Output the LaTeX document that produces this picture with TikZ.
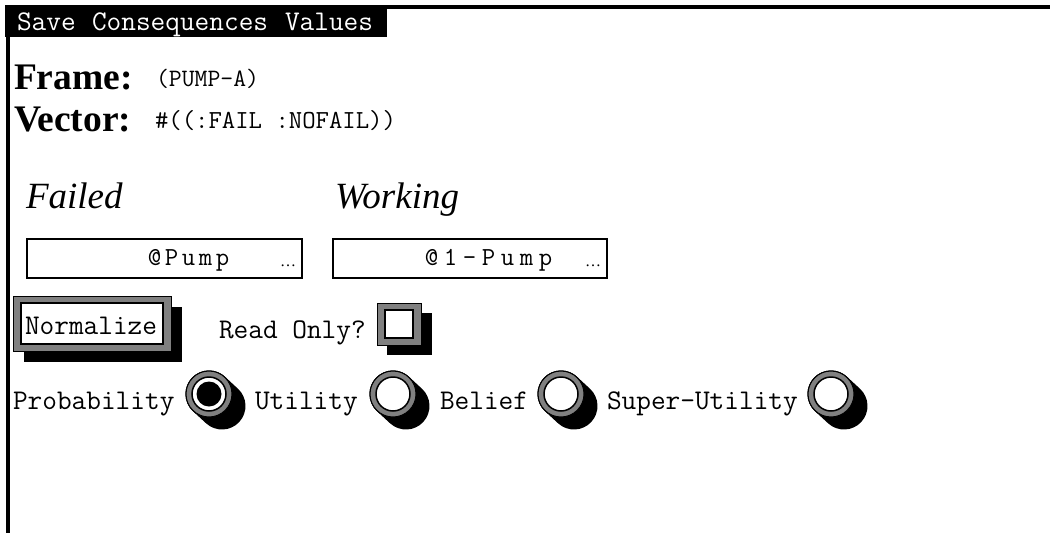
\documentclass[tikz,border=0pt]{standalone}
\usepackage{fontspec}
\setmainfont{Liberation Serif}
\definecolor{btngray}{HTML}{808080}
\newcommand\cellchar[2]{\makebox[#1][c]{#2}}

\begin{document}
\begin{tikzpicture}[x=1pt,y=-1pt,
  every node/.style={inner sep=0pt, outer sep=0pt},
  mono/.style={font=\ttfamily\fontsize{28.5}{28.5}\selectfont, anchor=base west},
  valmono/.style={font=\ttfamily\fontsize{26}{26}\selectfont, anchor=base west},
  smallmono/.style={font=\ttfamily\fontsize{25}{25}\selectfont, anchor=base west},
  heading/.style={font=\fontsize{37.5}{37.5}\selectfont\bfseries, anchor=base west},
  column/.style={font=\fontsize{37}{37}\selectfont\itshape, anchor=base west},
  field/.style={draw=black, line width=2pt, fill=white},
  bevel/.style={draw=black, line width=1pt, fill=btngray},
  face/.style={draw=black, line width=2pt, fill=white},
  shadow/.style={fill=black}]
\useasboundingbox (0,0) rectangle (1050,533);

% window frame and menu bar
\draw[line width=4pt] (5,7) -- (1050,7);
\draw[line width=4pt] (8,5) -- (8,533);
\fill[black] (5,5) rectangle (387,37);
\node[mono, text=white] (save) at (17,30) {Save};
\node[mono, text=white] (conseq) at (92,30) {Consequences};
\node[mono, text=white] (values) at (285,30) {Values};

% frame and vector headings
\node[heading] (framelbl) at (14,89) {Frame:};
\node[smallmono] (frameval) at (156,86) {(PUMP-A)};
\node[heading] (vectorlbl) at (14,131) {Vector:};
\node[valmono] (vectorval) at (155,128) {\#((:FAIL :NOFAIL))};

% value columns
\node[column] (failed) at (26,208) {Failed};
\node[column] (working) at (335,208) {Working};

\draw[field] (27,239) rectangle (302,278);
\node[valmono] (failedval) at (146,265) {\cellchar{17pt}{@}\cellchar{17pt}{P}\cellchar{17pt}{u}\cellchar{17pt}{m}\cellchar{17pt}{p}};
\node[anchor=base west, font=\fontsize{16}{16}\selectfont] (failedmore) at (280,266) {…};

\draw[field] (333,239) rectangle (607,278);
\node[valmono] (workingval) at (422,265) {\cellchar{19pt}{@}\cellchar{19pt}{1}\cellchar{19pt}{-}\cellchar{19pt}{P}\cellchar{19pt}{u}\cellchar{19pt}{m}\cellchar{19pt}{p}};
\node[anchor=base west, font=\fontsize{16}{16}\selectfont] (workingmore) at (585,266) {…};

% Normalize button
\fill[shadow] (24,307) rectangle (182,362);
\draw[bevel] (13,296) rectangle (171,351);
\draw[face] (21,303) rectangle (163,344);
\node[mono] (normalize) at (25,334) {Normalize};

% Read Only checkbox
\node[mono] (readonly) at (219,338) {Read Only?};
\fill[shadow] (387,313) rectangle (432,355);
\draw[bevel] (377,303) rectangle (421,345);
\draw[face] (385,310) rectangle (413,338);

% value type radio buttons
\node[mono] (probability) at (13,409) {Probability};
\node[mono] (utility) at (255,409) {Utility};
\node[mono] (belief) at (440,409) {Belief};
\node[mono] (superutility) at (607,409) {Super-Utility};

\foreach \name/\cx in {rprob/209, rutil/393, rbel/561, rsup/831} {
  \coordinate (\name) at (\cx,394);
  \fill[shadow] (\name) circle (23.5);
  \draw[line width=47pt, line cap=round] (\name) -- ++(13,12);
  \draw[bevel] (\name) circle (23);
  \draw[draw=black, line width=1.5pt, fill=white] (\name) circle (17);
}
\fill[black] (rprob) circle (12.5);
\end{tikzpicture}
\end{document}
